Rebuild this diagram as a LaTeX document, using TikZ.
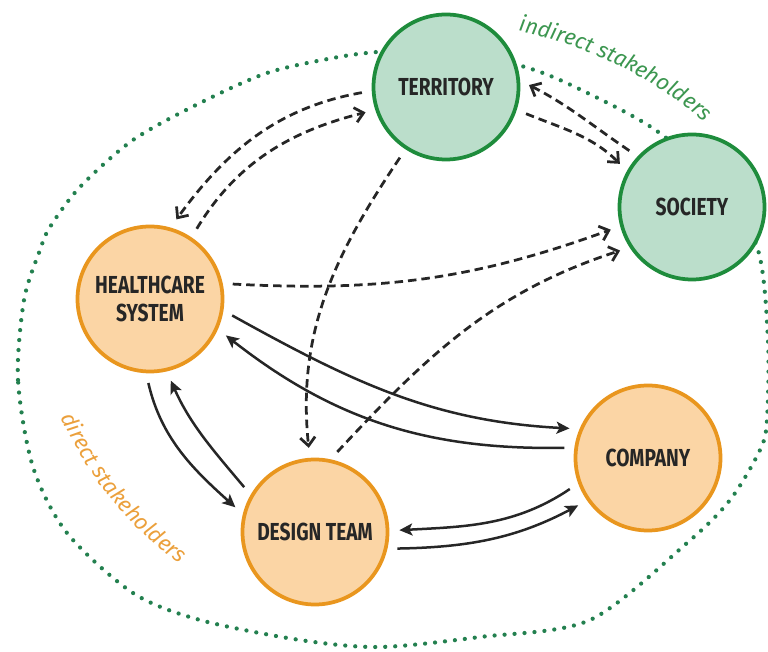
\documentclass[tikz,border=0pt]{standalone}
\usepackage{fontspec}
\usepackage{xcolor}
\usepackage{tikz}
\usetikzlibrary{arrows.meta,decorations.text,positioning}
\newfontfamily\stakefont{Fira Sans}[FakeStretch=0.78]
\newfontfamily\notefont{Fira Sans}
\definecolor{orangefill}{HTML}{FBD5A5}
\definecolor{orangeline}{HTML}{E9961E}
\definecolor{greenfill}{HTML}{BBDECB}
\definecolor{greenline}{HTML}{1E8C3C}
\definecolor{dotgreen}{HTML}{23804F}
\definecolor{notegreen}{HTML}{3C9650}
\definecolor{noteorange}{HTML}{EBA03C}

\begin{document}
\begin{tikzpicture}[
	dirnode/.style={circle, draw=orangeline, fill=orangefill, line width=0.75mm, minimum size=2.9cm, align=center, text=black!85, font=\stakefont\bfseries\fontsize{14}{16}\selectfont},
	indnode/.style={dirnode, draw=greenline, fill=greenfill},
	flow/.style={line width=0.5mm, draw=black!85, -{Stealth[length=2.6mm,width=2.4mm,inset=0.6mm]}, shorten <=2mm, shorten >=2mm},
	link/.style={line width=0.55mm, draw=black!85, dash pattern=on 1.7mm off 1mm, -{Straight Barb[length=1.7mm,width=3mm]}, shorten <=2mm, shorten >=2mm}]
	\useasboundingbox (0,0) rectangle (15.36,13.02);

	% boundary of the stakeholders
	\draw[dotgreen, line width=0.85mm, line cap=round, dash pattern=on 0pt off 2mm] plot[smooth cycle] coordinates {
		(0.66,3.68) (0.36,5.42) (0.48,7.02) (0.80,8.02) (1.00,8.48) (1.60,9.28) (2.66,10.22) (4.00,10.96)
		(5.34,11.56) (6.66,11.86) (7.54,11.98) (8.90,12.06) (10.36,11.72) (11.20,11.42) (12.54,10.76)
		(13.30,10.28) (14.40,9.32) (15.16,8.02) (15.36,6.22) (15.34,4.62) (15.20,4.02) (14.60,3.02)
		(13.74,2.16) (11.80,0.62) (9.60,0.28) (7.60,0.08) (6.00,0.22) (4.00,0.62) (2.66,1.16) (1.34,2.36)};

	\node[indnode] (terr) at (8.92,11.28) {TERRITORY};
	\node[indnode] (soc) at (13.84,8.88) {SOCIETY};
	\node[dirnode] (hc) at (3.00,7.04) {HEALTHCARE\\SYSTEM};
	\node[dirnode] (dt) at (6.30,2.38) {DESIGN TEAM};
	\node[dirnode] (co) at (12.96,3.86) {COMPANY};

	% indirect relations
	\draw[link] (terr.183) to[out=190,in=54] (hc.74);
	\draw[link] (hc.56) to[out=59,in=194] (terr.198);
	\draw[link] (terr.237) to[out=236,in=96] (dt.94);
	\draw[link] (dt.78) to[out=47,in=198] (soc.213);
	\draw[link] (hc.12) to[out=-3,in=200] (soc.195);
	\draw[link] (soc.137) to[out=146,in=333] (terr.5);
	\draw[link] (terr.-18) to[out=-22,in=135] (soc.151);

	% direct relations
	\draw[flow] (hc.-9) to[out=-29,in=177] (co.157);
	\draw[flow] (co.172) to[out=181,in=322] (hc.-24);
	\draw[flow] (hc.267) to[out=283,in=138] (dt.166);
	\draw[flow] (dt.150) to[out=130,in=294] (hc.283);
	\draw[flow] (co.200) to[out=214,in=3] (dt.1);
	\draw[flow] (dt.-13) to[out=1,in=208] (co.215);

	% group labels
	\path[decorate, decoration={text along path, text align=left, text color=notegreen,
		text={|\notefont\itshape\fontsize{12.5}{15}\selectfont|indirect stakeholders}}]
		(10.36,12.40) .. controls (11.60,12.15) and (13.10,11.50) .. (14.16,10.50);
	\path[decorate, decoration={text along path, text align=left, text color=noteorange,
		text={|\notefont\itshape\fontsize{12.5}{15}\selectfont|direct stakeholders}}]
		(1.22,4.68) .. controls (1.72,3.56) and (2.50,2.56) .. (3.56,1.76);
\end{tikzpicture}
\end{document}
